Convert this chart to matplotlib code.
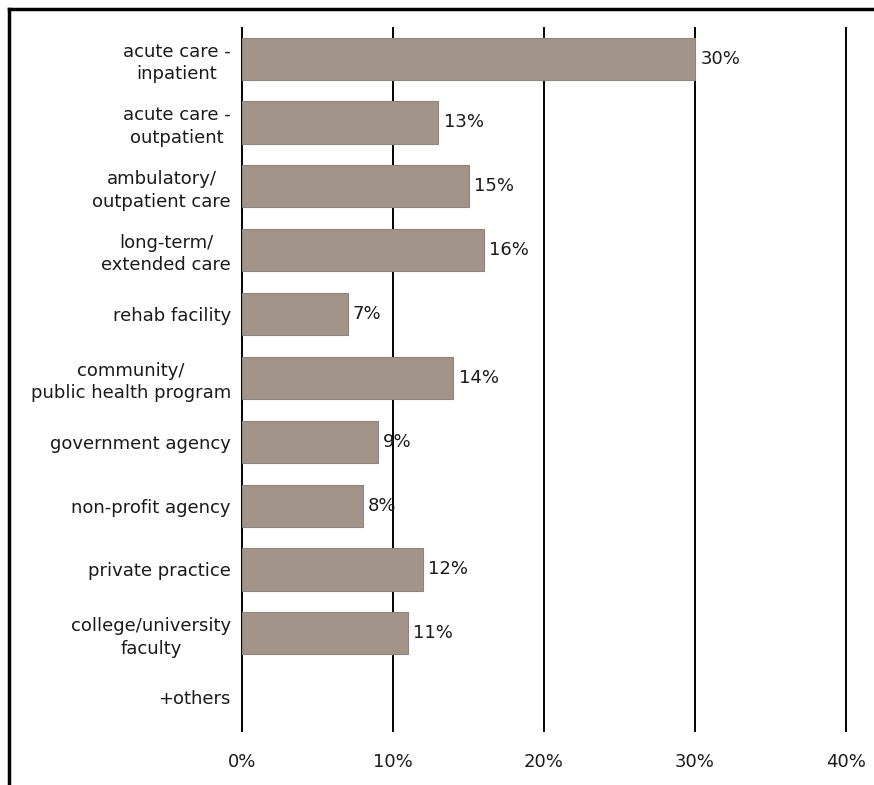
import matplotlib
matplotlib.use("Agg")
import matplotlib.pyplot as plt
from matplotlib.lines import Line2D

categories = ["acute care -\ninpatient", "acute care -\noutpatient", "ambulatory/\noutpatient care",
              "long-term/\nextended care", "rehab facility", "community/\npublic health program",
              "government agency", "non-profit agency", "private practice",
              "college/university\nfaculty", "+others"]
values = [30, 13, 15, 16, 7, 14, 9, 8, 12, 11, None]
value_labels = ["30%", "13%", "15%", "16%", "7%", "14%", "9%", "8%", "12%", "11%", ""]
xticks = [0, 10, 20, 30, 40]
xtick_labels = ["0%", "10%", "20%", "30%", "40%"]

FS = 13
plt.rcParams['font.family'] = ['DejaVu Sans']
fig = plt.figure(figsize=(8.74, 7.85), dpi=100)
ax = fig.add_axes([242/874, 1-731/785, (846-242)/874, (731-28)/785])

ypos = list(range(len(categories)))
for y, v, lab in zip(ypos, values, value_labels):
    if v is None:
        continue
    ax.barh(y, v, height=0.66, color="#a39489", edgecolor="#8c8580", linewidth=0.8, zorder=2)
    ax.text(v + 0.35, y, lab, va="center", ha="left", fontsize=FS, color="#1a1a1a", zorder=3)

ax.set_xlim(0, 40)
ax.set_ylim(10.53, -0.48)
ax.set_xticks(xticks)
ax.set_xticklabels(xtick_labels, fontsize=FS, color="#1a1a1a")
ax.set_yticks(ypos)
ax.set_yticklabels(categories, fontsize=FS, color="#1a1a1a", multialignment="center", linespacing=1.3)
ax.tick_params(axis="both", length=0)
ax.tick_params(axis="x", pad=16)
ax.tick_params(axis="y", pad=8)
for s in ax.spines.values():
    s.set_visible(False)
for x in xticks:
    ax.axvline(x, color="black", linewidth=1.4, zorder=1, clip_on=False)

fig.add_artist(Line2D([9/874, 9/874], [0, 1-9/785], color="black", linewidth=2.5, transform=fig.transFigure))
fig.add_artist(Line2D([9/874, 1], [1-9/785, 1-9/785], color="black", linewidth=2.5, transform=fig.transFigure))

fig.savefig("out.png", dpi=100)
